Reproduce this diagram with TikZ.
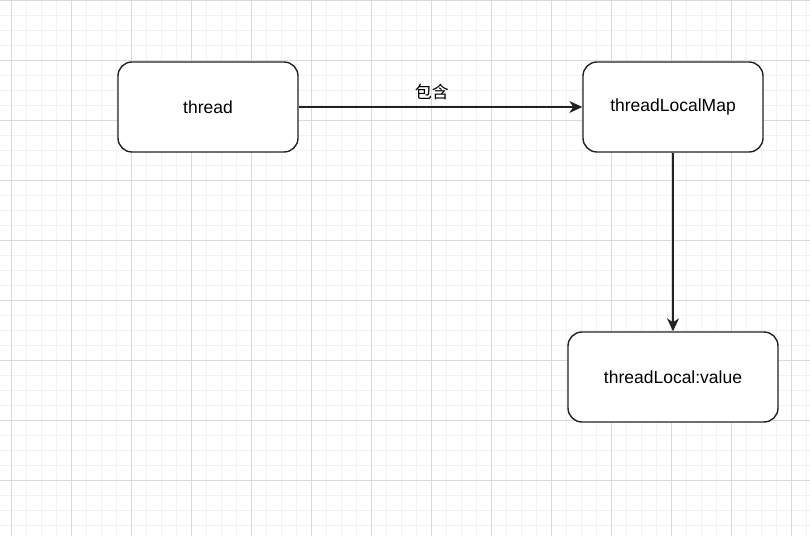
\documentclass[tikz,border=0pt]{standalone}
\usepackage{fontspec}
\setmainfont{Liberation Sans}
\newfontfamily\cjk{Noto Sans CJK SC}
\usetikzlibrary{arrows.meta}

\definecolor{minorgrid}{HTML}{F2F2F2}
\definecolor{majorgrid}{HTML}{DADADA}
\definecolor{boxline}{HTML}{222222}

\tikzset{
  box/.style={draw=boxline,line width=1.4pt,rounded corners=14pt,fill=white,
    minimum height=90pt,font=\fontsize{17.5}{21}\selectfont},
  link/.style={draw=boxline,line width=1.4pt,-{Stealth[length=13pt,width=12pt,inset=4pt]}}
}

\begin{document}
\begin{tikzpicture}[x=1pt,y=1pt]

\useasboundingbox (0,0) rectangle (810,535);
\fill[white] (0,0) rectangle (810,535);

% background grid
\begin{scope}
\clip (0,0) rectangle (810,535);
\draw[minorgrid,line width=0.8pt,shift={(11pt,10pt)},step=15pt] (-15,-15) grid (810,535);
\draw[majorgrid,line width=0.8pt,shift={(11pt,55pt)},step=60pt] (-60,-60) grid (810,535);
\end{scope}

\node[box,minimum width=180pt] (thread) at (208, 428) {thread};
\node[box,minimum width=180pt] (map) at (673, 428) {threadLocalMap};
\node[box,minimum width=210pt] (value) at (673, 158) {threadLocal:value};

\draw[link] (thread.east) -- node [pos=0.47, above=3pt, font=\cjk\fontsize{17}{20}\selectfont] (contains) {包含} (map.west);
\draw[link] (map.south) -- (value.north);

\end{tikzpicture}
\end{document}
